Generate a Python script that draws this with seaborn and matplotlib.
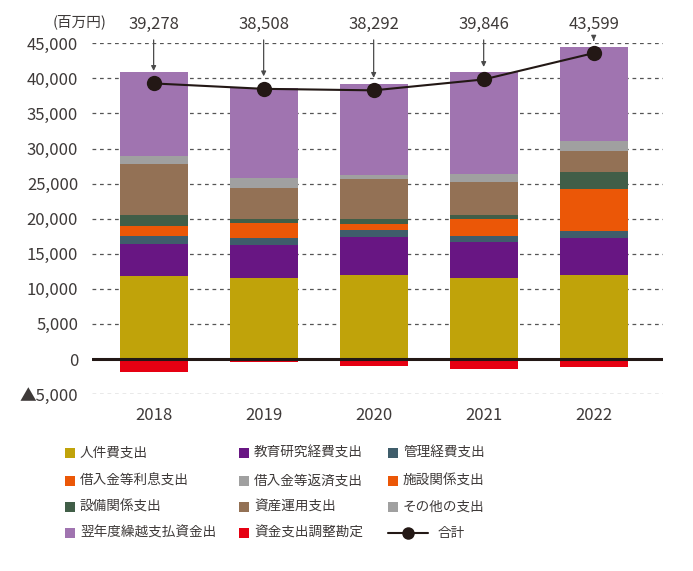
import numpy as np
import pandas as pd
import matplotlib
matplotlib.use('Agg')
import matplotlib.pyplot as plt
import seaborn as sns
from matplotlib.patches import Rectangle
from matplotlib.lines import Line2D

# ---------------- data (百万円) ----------------
years = ['2018', '2019', '2020', '2021', '2022']
personnel = [11830, 11545, 11970, 11545, 11970]       # 人件費支出
education = [4560, 4700, 5420, 5130, 5280]            # 教育研究経費支出
admin = [1140, 1000, 1000, 850, 990]                  # 管理経費支出
loan_interest = [0, 0, 0, 0, 0]                       # 借入金等利息支出
loan_repay = [0, 0, 0, 0, 0]                          # 借入金等返済支出
facility = [1430, 2140, 850, 2420, 5990]              # 施設関係支出
equipment = [1570, 570, 710, 570, 2420]               # 設備関係支出
asset = [7270, 4470, 5710, 4710, 3000]                # 資産運用支出
other = [1190, 1420, 570, 1140, 1420]                 # その他の支出
carryover = [11970, 12740, 12970, 14530, 13400]       # 翌年度繰越支払資金出
adjustment = [-1810, -380, -950, -1380, -1100]        # 資金支出調整勘定
totals = [39278, 38508, 38292, 39846, 43599]          # 合計

series_names = ['人件費支出', '教育研究経費支出', '管理経費支出', '借入金等利息支出',
                '借入金等返済支出', '施設関係支出', '設備関係支出', '資産運用支出',
                'その他の支出', '翌年度繰越支払資金出']
series_values = [personnel, education, admin, loan_interest, loan_repay,
                 facility, equipment, asset, other, carryover]
series_colors = ['#c0a30a', '#681683', '#3f5d6b', '#eb5707', '#a0a0a0',
                 '#eb5707', '#415e48', '#937155', '#a0a0a0', '#a074b0']
adj_name = '資金支出調整勘定'
adj_color = '#e60012'
total_name = '合計'
line_color = '#231815'
text_color = '#3e3a39'

ytick_vals = [-5000, 0, 5000, 10000, 15000, 20000, 25000, 30000, 35000, 40000, 45000]

# ---------------- style ----------------
sns.set_theme(style='white')
plt.rcParams['font.family'] = ['Noto Sans CJK JP', 'DejaVu Sans']

fig = plt.figure(figsize=(6.93, 5.71), dpi=100)
ax = fig.add_axes([0.1328, 0.3098, 0.8239, 0.6144])

x = np.arange(len(years))
bw = 0.62
bottom = np.zeros(len(years))
for name, vals, col in zip(series_names, series_values, series_colors):
    v = np.array(vals, dtype=float)
    ax.bar(x, v, bw, bottom=bottom, color=col, linewidth=0, zorder=2, label=name)
    bottom += v
ax.bar(x, adjustment, bw, color=adj_color, linewidth=0, zorder=2, label=adj_name)

ax.axhline(0, color=line_color, lw=2.2, zorder=3)

df = pd.DataFrame({'x': x, 'total': totals})
sns.lineplot(data=df, x='x', y='total', ax=ax, color=line_color, lw=1.5,
             marker='o', markersize=11, markeredgewidth=0, zorder=5, legend=False)
if ax.get_legend() is not None:
    ax.get_legend().remove()

for xi, t in zip(x, totals):
    ax.annotate(f'{t:,}', xy=(xi, t), xytext=(xi, 47750), textcoords='data',
                ha='center', va='center', fontsize=12, color=text_color,
                annotation_clip=False,
                arrowprops=dict(arrowstyle='-|>', color='#4a4a4a', lw=0.9,
                                shrinkA=3, shrinkB=9, mutation_scale=7))

ax.set_xlim(-0.56, 4.63)
ax.set_ylim(-5000, 45000)
ax.set_yticks(ytick_vals)
ax.set_yticklabels([('▲' + f'{-v:,}') if v < 0 else f'{v:,}' for v in ytick_vals])
ax.set_xticks(x)
ax.set_xticklabels(years)
ax.set_xlabel('')
ax.set_ylabel('')
ax.yaxis.grid(True, linestyle=(0, (3, 3)), color='#555555', lw=0.9)
ax.xaxis.grid(False)
ax.set_axisbelow(True)
for s in ax.spines.values():
    s.set_visible(False)
ax.tick_params(axis='y', length=0, pad=10, labelsize=12, labelcolor=text_color)
ax.tick_params(axis='x', length=0, pad=9, labelsize=12, labelcolor=text_color)

fig.text(80 / 693, 1 - 22 / 571, '(百万円)', ha='center', va='center',
         fontsize=10.5, color=text_color)

# ---------------- legend (manual, 3 columns) ----------------
W, H = 693, 571
col_x = [65, 239, 388]
row_y = [453, 481, 507, 533]
legend_items = list(zip(series_names, series_colors)) + [(adj_name, adj_color)]
for k, (name, col) in enumerate(legend_items):
    r, c = divmod(k, 3)
    x0, y0 = col_x[c], row_y[r]
    fig.add_artist(Rectangle((x0 / W, 1 - (y0 + 5) / H), 10 / W, 10 / H,
                             transform=fig.transFigure, color=col, lw=0))
    fig.text((x0 + 15) / W, 1 - y0 / H, name, ha='left', va='center',
             fontsize=9.8, color=text_color)
# 合計 line entry
x0, y0 = col_x[2], row_y[3]
fig.add_artist(Line2D([x0 / W, (x0 + 40) / W], [1 - y0 / H, 1 - y0 / H],
                      transform=fig.transFigure, color=line_color, lw=1.5))
fig.add_artist(Line2D([(x0 + 20) / W], [1 - y0 / H], transform=fig.transFigure,
                      color=line_color, marker='o', markersize=9, markeredgewidth=0))
fig.text((x0 + 50) / W, 1 - y0 / H, total_name, ha='left', va='center',
         fontsize=9.8, color=text_color)

fig.savefig('out.png', dpi=100)
